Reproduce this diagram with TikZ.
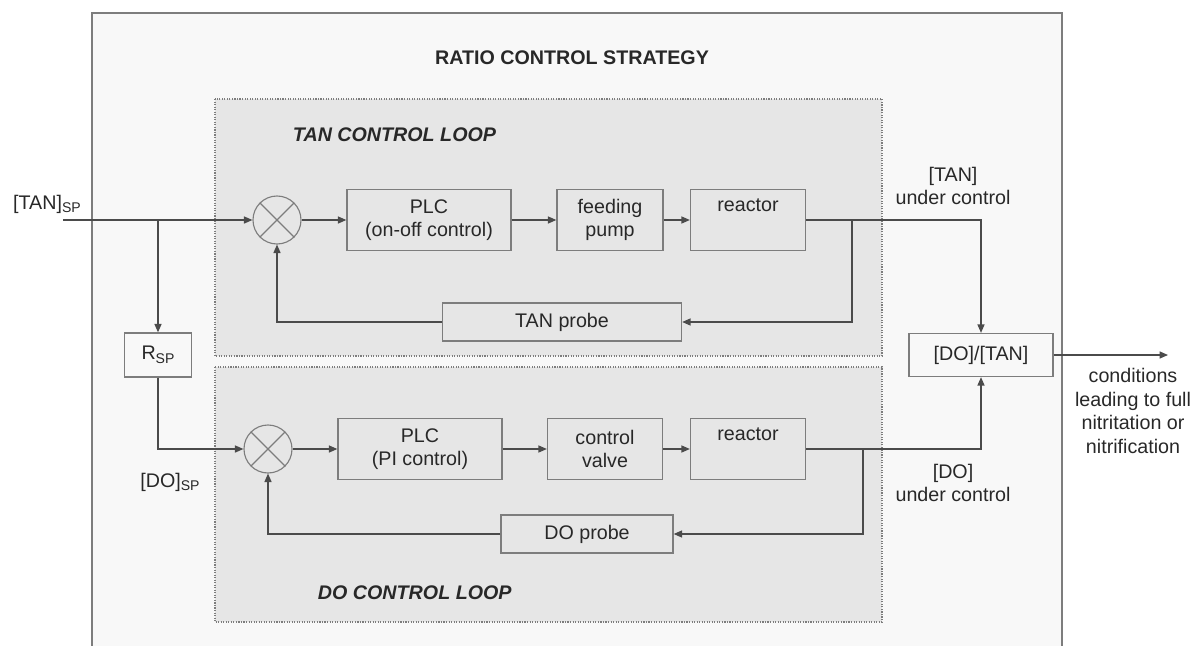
\documentclass[tikz,border=0pt]{standalone}
\usepackage{fontspec}
\setmainfont{Liberation Sans}
\usetikzlibrary{arrows.meta, positioning, calc}
\definecolor{loopgray}{RGB}{230,230,230}
\definecolor{outergray}{RGB}{248,248,248}
\definecolor{linegray}{RGB}{75,75,75}
\definecolor{edgegray}{RGB}{125,125,125}
\definecolor{textgray}{RGB}{40,40,40}
\newcommand{\spsub}{\raisebox{-2.5pt}{\fontsize{10}{10}\selectfont SP}}

\begin{document}
\begin{tikzpicture}[x=0.025cm, y=-0.025cm,
  font=\fontsize{14}{16.5}\selectfont, text=textgray,
  block/.style={draw=edgegray, line width=0.9pt, minimum height=1.525cm, align=center, inner sep=2pt},
  probebox/.style={block, minimum height=0.95cm},
  sumnode/.style={circle, draw=edgegray, line width=0.8pt, minimum size=1.2cm, inner sep=0pt},
  loopbox/.style={draw=edgegray, densely dotted, fill=loopgray, line width=0.8pt},
  looptitle/.style={anchor=west, font=\fontsize{14}{16.5}\selectfont\bfseries\itshape},
  arr/.style={draw=linegray, line width=0.9pt, -{Triangle[length=6pt, width=5pt]}},
  lnk/.style={draw=linegray, line width=0.9pt}]
  \useasboundingbox (0,0) rectangle (1196,645);
  \draw[draw=edgegray, line width=1.4pt, fill=outergray] (92,13) rectangle (1062,660);
  \node[font=\fontsize{14}{16.5}\selectfont\bfseries] (title) at (572,58) {RATIO CONTROL STRATEGY};

  \draw[loopbox] (215,99) rectangle (882,356);
  \draw[loopbox] (215,367) rectangle (882,622);
  \node[looptitle] (tanloop) at (288,135) {TAN CONTROL LOOP};
  \node[looptitle] (doloop) at (313,593) {DO CONTROL LOOP};

  \node[sumnode] (sumT) at (277,220) {};
  \node[block, minimum width=4.1cm] (plcT) at (429,220) {PLC\\(on-off control)};
  \node[block, minimum width=2.65cm] (pumpT) at (610,220) {feeding\\pump};
  \node[block, minimum width=2.875cm] (reacT) at (748,220) {reactor\\\strut};
  \node[probebox, minimum width=5.975cm] (probeT) at (562,322) {TAN probe};

  \node[sumnode] (sumD) at (268,449) {};
  \node[block, minimum width=4.1cm] (plcD) at (420,449) {PLC\\(PI control)};
  \node[block, minimum width=2.875cm] (valveD) at (605,449) {control\\valve};
  \node[block, minimum width=2.875cm] (reacD) at (748,449) {reactor\\\strut};
  \node[probebox, minimum width=4.3cm] (probeD) at (587,534) {DO probe};

  \node[block, minimum width=1.675cm, minimum height=1.1cm] (rsp) at (158,355) {R\spsub};
  \node[block, minimum width=3.6cm, minimum height=1.075cm] (ratio) at (981,355) {[DO]/[TAN]};

  \foreach \s in {sumT, sumD}
    \draw[edgegray, line width=0.8pt] (\s.45) -- (\s.225) (\s.135) -- (\s.315);

  \node (tansp) at (47,204) {[TAN]\spsub};
  \node (dosp) at (170,482) {[DO]\spsub};
  \node[align=center] (tanout) at (953,186) {[TAN]\\under control};
  \node[align=center] (doout) at (953,483) {[DO]\\under control};
  \node[align=center, font=\fontsize{14}{17}\selectfont] (cond) at (1133,411) {conditions\\leading to full\\nitritation or\\nitrification};

  \coordinate (inT) at (63,220);
  \coordinate (brT) at (158,220);
  \coordinate (fbT) at (852,220);
  \coordinate (fbD) at (863,449);
  \coordinate (res) at (1168,355);

  \draw[arr] (inT) -- (sumT.west);
  \draw[arr] (brT) -- (rsp.north);
  \draw[arr] (rsp.south) |- (sumD.west);
  \draw[arr] (sumT) -- (plcT);
  \draw[arr] (plcT) -- (pumpT);
  \draw[arr] (pumpT) -- (reacT);
  \draw[arr] (reacT.east) -| (ratio.north);
  \draw[arr] (fbT) |- (probeT.east);
  \draw[arr] (probeT.west) -| (sumT.south);
  \draw[arr] (sumD) -- (plcD);
  \draw[arr] (plcD) -- (valveD);
  \draw[arr] (valveD) -- (reacD);
  \draw[arr] (reacD.east) -| (ratio.south);
  \draw[arr] (fbD) |- (probeD.east);
  \draw[arr] (probeD.west) -| (sumD.south);
  \draw[arr] (ratio.east) -- (res);
\end{tikzpicture}
\end{document}
